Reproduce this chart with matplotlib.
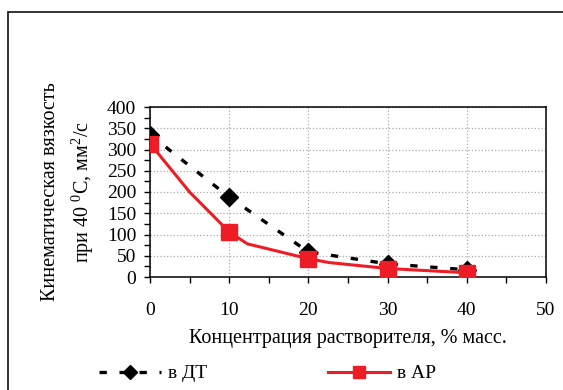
import matplotlib
matplotlib.use("Agg")
import matplotlib.pyplot as plt
from matplotlib.patches import Rectangle
from matplotlib.ticker import MultipleLocator

plt.rcParams['font.family'] = ['Liberation Serif', 'DejaVu Serif']
plt.rcParams['mathtext.fontset'] = 'custom'
plt.rcParams['mathtext.rm'] = 'Liberation Serif'
plt.rcParams['mathtext.it'] = 'Liberation Serif'

# Данные
conc = [0, 10, 20, 30, 40]
visc_dt = [335, 188, 59, 31, 17]
# красная кривая сглажена, промежуточные точки без маркеров
conc_ap_line = [0, 5, 10, 12.3, 20, 22.6, 30, 40]
visc_ap_line = [314, 200, 106, 78, 43, 34, 20, 10]
conc_ap = [0, 10, 20, 30, 40]
visc_ap = [314, 106, 43, 20, 10]

fig = plt.figure(figsize=(5.63, 3.90), dpi=100)
ax = fig.add_axes([150/563, 1 - 277/390, 396/563, 170/390])

# рамка вокруг всей диаграммы
fig.patches.append(Rectangle((8/563, -0.1), 1.2, 0.1 + 1 - 12/390, transform=fig.transFigure,
                             fill=False, edgecolor='#222222', linewidth=1.3))

ax.plot(conc, visc_dt, color='black', linewidth=2.4, dashes=(2.2, 3.8),
        marker='D', markersize=9.5, markerfacecolor='black', zorder=3)
ax.plot(conc_ap_line, visc_ap_line, color='#ee1c25', linewidth=2.2, zorder=4)
ax.plot(conc_ap, visc_ap, linestyle='none', marker='s', markersize=12,
        color='#ee1c25', zorder=5)

ax.set_xlim(0, 50)
ax.set_ylim(0, 400)
ax.xaxis.set_major_locator(MultipleLocator(10))
ax.xaxis.set_minor_locator(MultipleLocator(5))
ax.yaxis.set_major_locator(MultipleLocator(50))
ax.yaxis.set_minor_locator(MultipleLocator(25))
ax.tick_params(which='both', direction='out', length=4, width=1, labelsize=14)
ax.tick_params(axis='x', which='major', pad=14)
ax.tick_params(axis='y', which='major', pad=6)
ax.grid(True, which='major', color='#aaaaaa', linestyle=':', linewidth=0.9)
ax.set_axisbelow(True)
for s in ax.spines.values():
    s.set_linewidth(1.1)

ax.set_xlabel('Концентрация растворителя, % масс.', fontsize=14.5, labelpad=7)
ax.set_ylabel('Кинематическая вязкость\nпри 40 $^0$С, мм$^2$/с', fontsize=14.5,
              labelpad=8, linespacing=1.5)

h1, = ax.plot([], [], color='black', linewidth=2.4, dashes=(2.2, 3.8),
              marker='D', markersize=7)
h2, = ax.plot([], [], color='#ee1c25', linewidth=2.2, marker='s', markersize=9)
fig.legend([h1, h2], ['в ДТ', 'в АР'], loc='center', bbox_to_anchor=(0.475, 0.042),
           ncol=2, frameon=False, fontsize=14, handlelength=3.2,
           columnspacing=6.2, handletextpad=0.35)

fig.savefig('out.png', dpi=100)
